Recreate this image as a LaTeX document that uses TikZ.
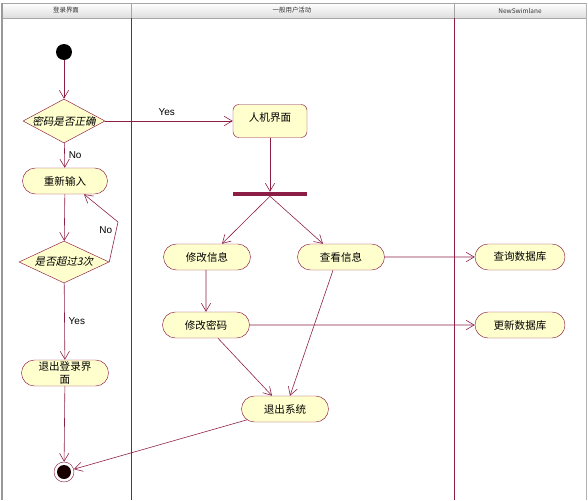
\documentclass[tikz,border=0pt]{standalone}
\usepackage{fontspec}
\setmainfont{Liberation Sans}
\newfontfamily\cjk{Noto Sans CJK SC}
\newfontfamily\cjkslant{Noto Sans CJK SC}[FakeSlant=0.2]
\usetikzlibrary{arrows.meta,shapes.geometric,shapes.misc}
\definecolor{lanered}{RGB}{140,30,70}
\definecolor{actfill}{RGB}{255,255,206}
\definecolor{headgray}{RGB}{222,222,222}

\begin{document}
\begin{tikzpicture}[x=0.03cm, y=-0.03cm,
    every node/.style={font=\fontsize{8.5}{10}\selectfont},
    act/.style={rounded rectangle, draw=lanered, fill=actfill,
      minimum width=2.61cm, minimum height=0.78cm, inner sep=0pt,
      font=\cjk\fontsize{9}{11}\selectfont, align=center},
    decision/.style={diamond, draw=lanered, fill=actfill, inner sep=0pt},
    flow/.style={draw=lanered, line width=0.5pt, -{Straight Barb[length=2.4mm,width=2.8mm]}},
    lanehead/.style={font=\cjk\fontsize{5.5}{6}\selectfont, text=black!80}]
        \useasboundingbox (0,0) rectangle (588,500);
        % --- Swimlanes ---
        \shade[top color=white, bottom color=headgray] (2,3) rectangle (586,18);
        \draw[gray!70] (2,3) rectangle (586,18);
        \draw[gray!80, line width=1pt] (2,3) -- (2,500);
        \draw[gray!60] (586,3) -- (586,500);
        \foreach \x in {131,454} {
          \draw[gray!70] (\x,3) -- (\x,18);
          \draw[lanered, line width=0.5pt] (\x,18) -- (\x,500);
        }
        \foreach \x/\nm/\txt in {66/login/登录界面, 292/user/一般用户活动, 520/other/NewSwimlane}
          \node[lanehead] (lane-\nm) at (\x,10.5) {\txt};

        % --- Login lane ---
        \node[circle, fill=black, minimum size=0.48cm, inner sep=0pt] (start) at (64,52) {};
        \node[decision, minimum width=2.46cm, minimum height=1.32cm,
          label={[font=\cjkslant\fontsize{9}{10}\selectfont]center:密码是否正确}] (chk) at (64,121) {};
        \node[act, minimum width=2.55cm] (retry) at (65,181) {重新输入};
        \node[decision, minimum width=2.7cm, minimum height=1.26cm,
          label={[font=\cjkslant\fontsize{9}{10}\selectfont]center:是否超过3次}] (cnt) at (64,262) {};
        \node[act, minimum width=2.61cm, font=\cjk\fontsize{9}{10.5}\selectfont] (quit) at (65,373) {退出登录界\\面};
        \node[circle, draw=lanered, fill=white, minimum size=0.6cm, inner sep=0pt,
          path picture={\fill[black!90!red] (path picture bounding box.center) circle (0.21cm);}] (endn) at (64,472) {};

        % --- User lane ---
        \node[draw=lanered, fill=actfill, rounded corners=0.18cm, minimum width=2.22cm,
          minimum height=0.99cm, inner sep=0pt,
          label={[anchor=north, yshift=-4pt, font=\cjk\fontsize{9}{10}\selectfont]north:人机界面}] (hci) at (270,121) {};
        \node[fill=lanered, minimum width=2.22cm, minimum height=0.12cm, inner sep=0pt] (fork) at (270,194) {};
        \node[act] (modinfo) at (207,257) {修改信息};
        \node[act] (view) at (341,257) {查看信息};
        \node[act] (modpwd) at (206,325) {修改密码};
        \node[act] (exit) at (285,409) {退出系统};

        % --- NewSwimlane ---
        \node[act, minimum width=2.7cm] (query) at (520,257) {查询数据库};
        \node[act, minimum width=2.7cm] (update) at (520,325) {更新数据库};

        % Transitions
        \coordinate (bend) at (118,222);
        \draw[flow] (start) -- (chk);
        \draw[flow] (chk) -- node[above, xshift=-2pt, yshift=1pt]{Yes} (hci);
        \draw[flow] (chk) -- node[right]{No} (retry);
        \draw[flow] (retry) -- (cnt);
        \draw[flow] (cnt.east) -- node[left, pos=0.8]{No} (bend) -- ([xshift=0.57cm]retry.south);
        \draw[flow] (cnt) -- node[right]{Yes} (quit);
        \draw[flow] (quit) -- (endn);
        \draw[flow] (hci) -- (fork);
        \draw[flow] (fork.south) -- ([xshift=0.45cm]modinfo.north);
        \draw[flow] (fork.south) -- ([xshift=-0.54cm]view.north);
        \draw[flow] (modinfo.south -| modpwd) -- (modpwd);
        \draw[flow] ([xshift=-0.24cm]view.south) -- ([xshift=0.15cm]exit.north);
        \draw[flow] ([xshift=0.36cm]modpwd.south) -- ([xshift=-0.39cm]exit.north);
        \draw[flow] (view) -- (query);
        \draw[flow] (modpwd) -- (update);
        \draw[flow] (exit) -- (endn);
\end{tikzpicture}
\end{document}
